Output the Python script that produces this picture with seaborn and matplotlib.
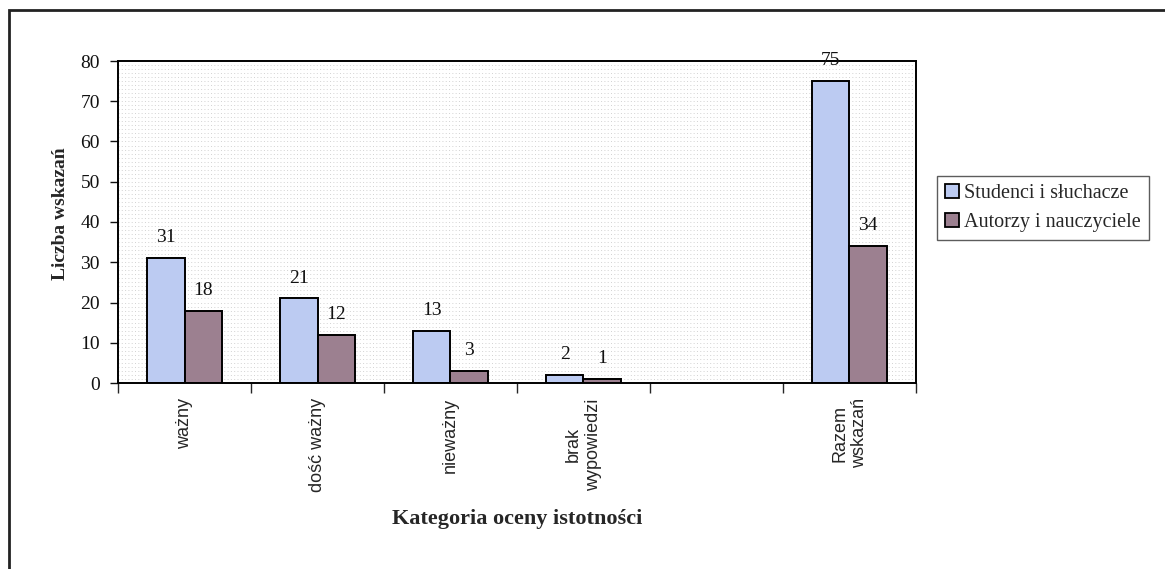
import pandas as pd
import numpy as np
import matplotlib.pyplot as plt
import matplotlib.ticker as mticker
from matplotlib.patches import Rectangle
import seaborn as sns

# --- Dane ---
kategorie = ["ważny", "dość ważny", "nieważny", "brak\nwypowiedzi", " ", "Razem\nwskazań"]
studenci = [31, 21, 13, 2, np.nan, 75]
autorzy = [18, 12, 3, 1, np.nan, 34]
serie = ["Studenci i słuchacze", "Autorzy i nauczyciele"]
kolory = ["#bccbf2", "#9c8090"]

df = pd.DataFrame({
    "Kategoria": kategorie * 2,
    "Liczba": studenci + autorzy,
    "Grupa": [serie[0]] * len(kategorie) + [serie[1]] * len(kategorie),
})

# --- Styl ---
sns.set_theme(style="white")
plt.rcParams['font.family'] = ['Liberation Serif', 'DejaVu Serif']

W, H = 1165, 569
fig = plt.figure(figsize=(W / 100, H / 100), dpi=100)
fig.patch.set_facecolor("white")
ax = fig.add_axes([118 / W, 1 - 383 / H, (916 - 118) / W, (383 - 61) / H])

sns.barplot(data=df, x="Kategoria", y="Liczba", hue="Grupa", order=kategorie,
            hue_order=serie, palette=kolory, width=0.56, gap=0,
            edgecolor="black", linewidth=1.4, saturation=1, legend=False, ax=ax)

for cont in ax.containers:
    ax.bar_label(cont, fmt="%g", padding=8.5, fontsize=14, color="#111111")

# osie
ax.set_ylim(0, 80)
ax.set_xlim(-0.5, len(kategorie) - 0.5)
ax.yaxis.set_major_locator(mticker.MultipleLocator(10))
ax.yaxis.set_minor_locator(mticker.MultipleLocator(1))
ax.tick_params(axis="y", which="major", direction="out", length=6, width=1,
               labelsize=14, left=True, pad=7, colors="#111111")
ax.tick_params(axis="y", which="minor", length=0)

# znaczniki x między kategoriami
ax.set_xticks(range(len(kategorie)))
ax.set_xticklabels(kategorie, rotation=90, va="top", ha="center",
                   multialignment="center", family="Liberation Sans", fontsize=13)
ax.xaxis.set_minor_locator(mticker.FixedLocator(np.arange(-0.5, len(kategorie), 1.0)))
ax.tick_params(axis="x", which="major", length=0, pad=11)
ax.tick_params(axis="x", which="minor", direction="out", length=7, width=1, bottom=True)

# kropkowane tło
ax.set_axisbelow(True)
kropki = dict(color="#d2d2d2", linestyle=(0, (1, 2.4)), linewidth=0.7)
ax.grid(which="minor", axis="y", **kropki)
ax.grid(which="major", axis="y", **kropki)
ax.grid(which="major", axis="x", visible=False)

for s in ax.spines.values():
    s.set_visible(True)
    s.set_color("black")
    s.set_linewidth(1.4)

ax.set_xlabel("Kategoria oceny istotności", fontsize=16, fontweight="bold")
ax.xaxis.set_label_coords(0.5, -0.39)
ax.set_ylabel("Liczba wskazań", fontsize=14, fontweight="bold")
ax.yaxis.set_label_coords(-0.061, 0.525)

# legenda
uchwyty = [Rectangle((0, 0), 1, 1, facecolor=c, edgecolor="black", linewidth=1.3) for c in kolory]
leg = fig.legend(uchwyty, serie, loc="center left",
                 bbox_to_anchor=(937 / W, 1 - 208 / H), frameon=True, fancybox=False,
                 edgecolor="#333333", fontsize=14.5, handlelength=0.7, handleheight=0.7,
                 handletextpad=0.25, borderpad=0.4, labelspacing=0.5, borderaxespad=0)
leg.get_frame().set_linewidth(1.0)

# ramka wykresu
fig.add_artist(Rectangle((9 / W, -0.05), 1.1, 1 - 10 / H + 0.05, transform=fig.transFigure,
                         fill=False, edgecolor="#222222", linewidth=2.0))

fig.savefig("out.png", dpi=100)
